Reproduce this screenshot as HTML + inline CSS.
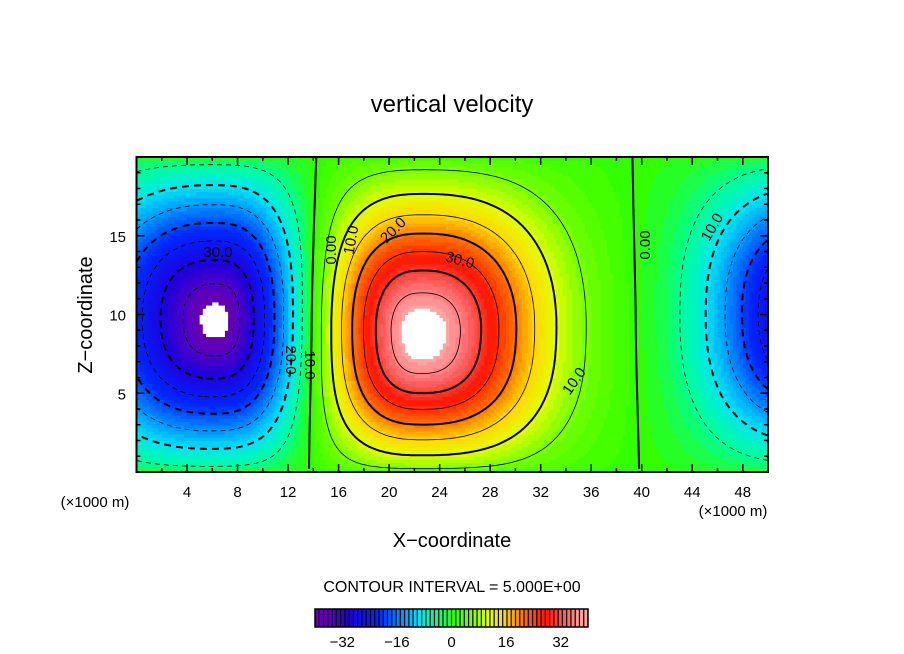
<!DOCTYPE html>
<html><head><meta charset="utf-8">
<style>
html,body{margin:0;padding:0;background:#fff;}
svg{display:block;font-family:"Liberation Sans",sans-serif;}
</style></head>
<body>
<svg id="chart" width="904" height="654" viewBox="0 0 904 654">
<text x="452" y="112" text-anchor="middle" font-size="24">vertical velocity</text>
<g id="field"></g>
<g id="lines"></g>
<g id="clabels"></g>
<rect x="136.5" y="157" width="631.5" height="315" fill="none" stroke="#000" stroke-width="2"/>
<g id="xticks"></g>
<g id="zticks"></g>
<text x="95" y="507" font-size="15" text-anchor="middle">(×1000 m)</text>
<text x="733" y="516" font-size="15" text-anchor="middle">(×1000 m)</text>
<text x="452" y="547" text-anchor="middle" font-size="20">X−coordinate</text>
<text transform="translate(92,315) rotate(-90)" text-anchor="middle" font-size="20">Z−coordinate</text>
<text x="452" y="592" text-anchor="middle" font-size="16">CONTOUR INTERVAL = 5.000E+00</text>
<g id="cbar"></g>
</svg>
<script>
// model field parameters
const blobX = [6.5, 22.5, 54];
const blobZ = [9.5, 8.3, 10];
const blobAmp = [-38.5, 39.6, -36];
const blobSXL = [6.5, 5.0, 5.6];
const blobSXR = [4.3, 6.5, 5.0];
const blobSZD = [6.0, 5.6, 6.0];
const blobSZU = [6.3, 6.4, 6.0];
const xTicks = [4, 8, 12, 16, 20, 24, 28, 32, 36, 40, 44, 48];
const zTicks = [5, 10, 15];
const cbarTicks = [-32, -16, 0, 16, 32];
const levels = [-35,-30,-25,-20,-15,-10,-5,0,5,10,15,20,25,30,35];

const NS = "http://www.w3.org/2000/svg";
const X0 = 136.5, X1 = 768, Y0 = 472, Y1 = 157;
const xs = v => X0 + (v / 50) * (X1 - X0);
const zs = v => Y0 - (v / 20) * (Y0 - Y1);

function field(x, z) {
  let s = 0;
  for (let i = 0; i < blobX.length; i++) {
    const dx = (x - blobX[i]) / (x < blobX[i] ? blobSXL[i] : blobSXR[i]);
    const dz = (z - blobZ[i]) / (z < blobZ[i] ? blobSZD[i] : blobSZU[i]);
    const r = Math.pow(Math.abs(dx) ** 2.5 + Math.abs(dz) ** 2.5, 1 / 2.5);
    s += blobAmp[i] * Math.exp(-r * r / 2);
  }
  return s * Math.pow(Math.sin(Math.PI * Math.min(Math.max(z, 0), 20) / 20), 0.3);
}

const stops = [[-40,[120,0,150]],[-36,[90,0,190]],[-31,[30,0,220]],[-22,[0,40,255]],[-15,[0,150,255]],[-10,[0,230,240]],[-5,[0,255,150]],[0,[50,255,0]],[5,[120,255,0]],[10,[225,255,0]],[15,[255,215,0]],[20,[255,120,0]],[27,[255,20,0]],[33,[255,100,100]],[38,[255,170,170]],[40,[255,180,180]]];
function color(v) {
  if (Math.abs(v) > 37.5) return "#ffffff";
  v = Math.round(v / 1.25) * 1.25;
  for (let i = 0; i < stops.length - 1; i++) {
    const [a, ca] = stops[i], [b, cb] = stops[i + 1];
    if (v >= a && v <= b) {
      const t = (v - a) / (b - a);
      return "rgb(" + ca.map((c, k) => Math.round(c + (cb[k] - c) * t)).join(",") + ")";
    }
  }
  return v < 0 ? "rgb(120,0,150)" : "rgb(255,180,180)";
}

// grid
const NX = 200, NZ = 100;
const grid = [];
for (let j = 0; j <= NZ; j++) {
  grid.push([]);
  for (let i = 0; i <= NX; i++) grid[j].push(field(i * 50 / NX, j * 20 / NZ));
}
const fg = document.getElementById("field");
for (let j = 0; j < NZ; j++) for (let i = 0; i < NX; i++) {
  const v = (grid[j][i] + grid[j][i + 1] + grid[j + 1][i] + grid[j + 1][i + 1]) / 4;
  const x0 = xs(i * 50 / NX), x1 = xs((i + 1) * 50 / NX), ya = zs((j + 1) * 20 / NZ), yb = zs(j * 20 / NZ);
  const r = document.createElementNS(NS, "rect");
  r.setAttribute("x", x0.toFixed(2)); r.setAttribute("y", ya.toFixed(2));
  r.setAttribute("width", (x1 - x0 + 0.5).toFixed(2)); r.setAttribute("height", (yb - ya + 0.5).toFixed(2));
  r.setAttribute("fill", color(v));
  
  
  fg.appendChild(r);
}

// marching squares with segment chaining
const lg = document.getElementById("lines");
levels.forEach(L => {
  const segs = [];
  const P = (i, j) => [xs(i * 50 / NX), zs(j * 20 / NZ)];
  const interp = (i1, j1, i2, j2) => {
    const a = grid[j1][i1], b = grid[j2][i2], t = (L - a) / (b - a);
    const p1 = P(i1, j1), p2 = P(i2, j2);
    return [p1[0] + (p2[0] - p1[0]) * t, p1[1] + (p2[1] - p1[1]) * t];
  };
  for (let j = 0; j < NZ; j++) for (let i = 0; i < NX; i++) {
    const pts = [];
    const e = [[i, j, i + 1, j], [i + 1, j, i + 1, j + 1], [i + 1, j + 1, i, j + 1], [i, j + 1, i, j]];
    e.forEach(([a, b, c, f]) => {
      const va = grid[b][a], vb = grid[f][c];
      if ((va - L) * (vb - L) < 0) pts.push(interp(a, b, c, f));
    });
    for (let k = 0; k + 1 < pts.length; k += 2) segs.push([pts[k], pts[k + 1]]);
  }
  const key = p => p[0].toFixed(2) + "," + p[1].toFixed(2);
  const map = new Map();
  segs.forEach((s, idx) => { [0, 1].forEach(e => { const k = key(s[e]); if (!map.has(k)) map.set(k, []); map.get(k).push(idx); }); });
  const used = new Array(segs.length).fill(false);
  let d = "";
  function extend(chain, pt) {
    while (true) {
      const cands = (map.get(key(pt)) || []).filter(n => !used[n]);
      if (!cands.length) break;
      const n = cands[0]; used[n] = true;
      const s = segs[n];
      pt = key(s[0]) === key(pt) ? s[1] : s[0];
      chain.push(pt);
    }
    return chain;
  }
  for (let n = 0; n < segs.length; n++) {
    if (used[n]) continue;
    used[n] = true;
    const fwd = extend([segs[n][1]], segs[n][1]);
    const back = extend([segs[n][0]], segs[n][0]);
    const chain = back.reverse().concat(fwd);
    d += "M" + chain.map(p => p[0].toFixed(1) + " " + p[1].toFixed(1)).join("L");
  }
  const p = document.createElementNS(NS, "path");
  p.setAttribute("d", d);
  p.setAttribute("fill", "none");
  p.setAttribute("stroke", "#000");
  p.setAttribute("stroke-width", L % 10 === 0 ? "2" : "0.8");
  if (L < 0) p.setAttribute("stroke-dasharray", L % 10 === 0 ? "7 5" : "5 4");
  
  
  lg.appendChild(p);
});

// contour labels (hand-placed like reference)
const cl = document.getElementById("clabels");
[["30.0", 218, 257, 0], ["20.0", 291, 365, 90], ["10.0", 310, 370, 90], ["0.00", 331, 255, -90], ["10.0", 351, 245, -80], ["20.0", 393, 235, -45], ["30.0", 460, 265, 15], ["10.0", 574, 386, -55], ["0.00", 645, 250, -90], ["10.0", 712, 232, -60]].forEach(([t, x, y, a]) => {
  const tx = document.createElementNS(NS, "text");
  tx.setAttribute("x", x); tx.setAttribute("y", y);
  tx.setAttribute("font-size", "15");
  tx.setAttribute("text-anchor", "middle");
  tx.setAttribute("transform", `rotate(${a},${x},${y - 5})`);
  tx.textContent = t;
  
  
  cl.appendChild(tx);
});

// axes ticks (major + minor, all four sides)
const xg = document.getElementById("xticks");
function tick(g, x1, y1, x2, y2, name) {
  const l = document.createElementNS(NS, "line");
  l.setAttribute("x1", x1); l.setAttribute("x2", x2); l.setAttribute("y1", y1); l.setAttribute("y2", y2);
  l.setAttribute("stroke", "#000"); l.setAttribute("stroke-width", "1.5");
  
  
  g.appendChild(l);
}
for (let v = 2; v < 50; v += 4) {
  tick(xg, xs(v), 472, xs(v), 468, 'x-minor-tick');
  tick(xg, xs(v), 157, xs(v), 161, 'x-minor-tick');
}
xTicks.forEach(v => {
  tick(xg, xs(v), 472, xs(v), 464, 'x-tick');
  tick(xg, xs(v), 157, xs(v), 165, 'x-tick');
  const t = document.createElementNS(NS, "text");
  t.setAttribute("x", xs(v)); t.setAttribute("y", 497); t.setAttribute("font-size", "15"); t.setAttribute("text-anchor", "middle");
  t.textContent = v;
  
  
  xg.appendChild(t);
});
const zg = document.getElementById("zticks");
for (let v = 1; v < 20; v++) {
  if (v % 5 === 0) continue;
  tick(zg, 136.5, zs(v), 140.5, zs(v), 'z-minor-tick');
  tick(zg, 768, zs(v), 764, zs(v), 'z-minor-tick');
}
zTicks.forEach(v => {
  tick(zg, 136.5, zs(v), 144.5, zs(v), 'z-tick');
  tick(zg, 768, zs(v), 760, zs(v), 'z-tick');
  const t = document.createElementNS(NS, "text");
  t.setAttribute("x", 126); t.setAttribute("y", zs(v) + 6); t.setAttribute("font-size", "15"); t.setAttribute("text-anchor", "end");
  t.textContent = v;
  
  
  zg.appendChild(t);
});

// colorbar
const cb = document.getElementById("cbar");
const CB0 = 315, CB1 = 588, cbs = v => CB0 + (v + 40) / 80 * (CB1 - CB0);
const bg = document.createElementNS(NS, "rect");
bg.setAttribute("x", CB0); bg.setAttribute("y", 609); bg.setAttribute("width", CB1 - CB0); bg.setAttribute("height", 18);
bg.setAttribute("fill", "#000");


cb.appendChild(bg);
for (let v = -40; v < 40; v += 1.25) {
  const r = document.createElementNS(NS, "rect");
  r.setAttribute("x", cbs(v) + 0.6); r.setAttribute("y", 609);
  r.setAttribute("width", (CB1 - CB0) / 64 - 1.2); r.setAttribute("height", 18);
  r.setAttribute("fill", color(Math.max(-37, Math.min(37, v + 0.6))));
  
  
  cb.appendChild(r);
}
const fr = document.createElementNS(NS, "rect");
fr.setAttribute("x", CB0); fr.setAttribute("y", 609); fr.setAttribute("width", CB1 - CB0); fr.setAttribute("height", 18);
fr.setAttribute("fill", "none"); fr.setAttribute("stroke", "#000"); fr.setAttribute("stroke-width", "1.5");


cb.appendChild(fr);
cbarTicks.forEach(v => {
  const t = document.createElementNS(NS, "text");
  t.setAttribute("x", cbs(v)); t.setAttribute("y", 647); t.setAttribute("font-size", "15"); t.setAttribute("text-anchor", "middle");
  t.textContent = v < 0 ? "−" + (-v) : v;
  
  
  cb.appendChild(t);
});
</script>
</body></html>
